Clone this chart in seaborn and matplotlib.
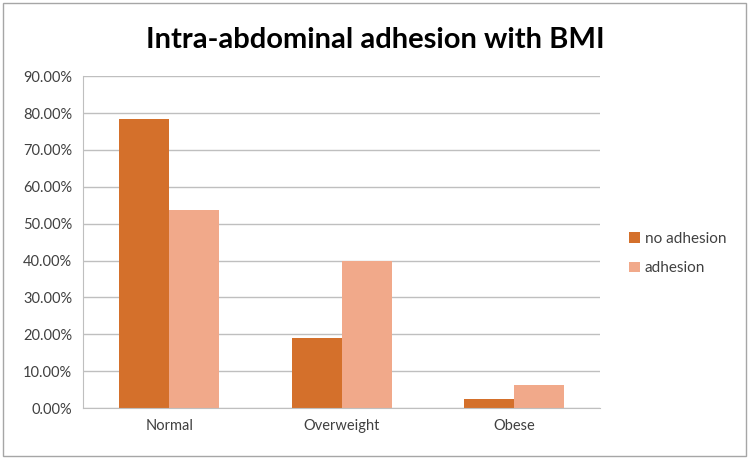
import pandas as pd
import seaborn as sns
import matplotlib.pyplot as plt
from matplotlib.ticker import FuncFormatter
from matplotlib.patches import Rectangle

categories = ['Normal', 'Overweight', 'Obese']
no_adhesion = [78.4, 19.1, 2.4]
adhesion = [53.8, 40.0, 6.2]
series_names = ['no adhesion', 'adhesion']

df = pd.DataFrame({
    'BMI': categories * 2,
    'value': no_adhesion + adhesion,
    'group': [series_names[0]] * 3 + [series_names[1]] * 3,
})

sns.set_style('white')
plt.rcParams['font.family'] = ['Lato', 'DejaVu Sans']

fig = plt.figure(figsize=(7.5, 4.59), dpi=100)
ax = fig.add_axes([0.111, 0.111, 0.689, 0.723])

sns.barplot(data=df, x='BMI', y='value', hue='group', ax=ax,
            palette=['#D4702B', '#F1A98A'], width=0.58, gap=0,
            saturation=1, edgecolor='none')

ax.set_ylim(0, 90)
ax.set_yticks(range(0, 91, 10))
ax.yaxis.set_major_formatter(FuncFormatter(lambda v, p: f'{v:.2f}%'))
ax.grid(axis='y', color='#BFBFBF', linewidth=1)
ax.set_axisbelow(True)
for s in ['top', 'right']:
    ax.spines[s].set_visible(False)
ax.spines['bottom'].set_color('#BFBFBF')
ax.spines['left'].set_color('#BFBFBF')
ax.tick_params(axis='both', length=0, labelsize=10.5, colors='#404040', pad=8)
ax.set_xlabel('')
ax.set_ylabel('')

# title centred on the whole figure, not the axes
ax.set_title('Intra-abdominal adhesion with BMI', fontsize=21, fontweight='bold',
             color='black', pad=20, x=0.565)

leg = ax.legend(loc='center left', bbox_to_anchor=(1.03, 0.465), frameon=False,
                fontsize=11, labelspacing=1.0, handlelength=0.7, handleheight=0.7,
                handletextpad=0.3)
for t in leg.get_texts():
    t.set_color('#404040')

fig.patches.append(Rectangle((0.004, 0.006), 0.99, 0.988, transform=fig.transFigure,
                             fill=False, edgecolor='#A6A6A6', linewidth=1))

fig.savefig('out.png', dpi=100)
